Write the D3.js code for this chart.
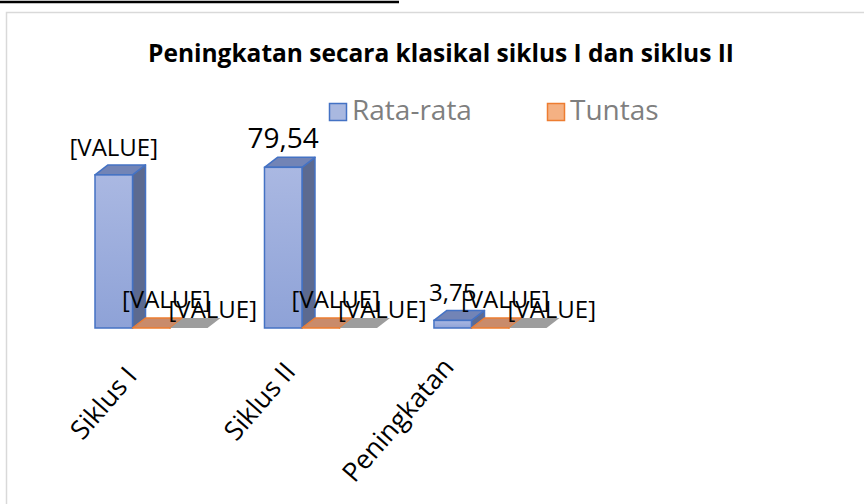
<!DOCTYPE html>
<html>
<head>
<meta charset="utf-8">
<script src="https://cdn.jsdelivr.net/npm/d3@7"></script>
<style>
  body { margin: 0; background: #fff; }
  svg { display: block; font-family: "Open Sans", sans-serif; }
</style>
</head>
<body>
<svg id="chart"></svg>
<script>
// categories and series
var categories = ['Siklus I', 'Siklus II', 'Peningkatan'];
var seriesNames = ['Rata-rata', 'Tuntas', 'Seri 3'];
var rataRata = [75.79, 79.54, 3.75];
var tuntas = [0, 0, 0];
var seri3 = [0, 0, 0];
// data label texts as shown in the picture
var rataLabels = ['[VALUE]', '79,54', '3,75'];
var tuntasLabels = ['[VALUE]', '[VALUE]', '[VALUE]'];
var seri3Labels = ['[VALUE]', '[VALUE]', '[VALUE]'];

var w = 864, h = 504;
var svg = d3.select('#chart').attr('width', w).attr('height', h);

// page line above the chart and the chart frame
svg.append('line')
  .attr('x1', 0).attr('x2', 399).attr('y1', 2).attr('y2', 2)
  .attr('stroke', '#000').attr('stroke-width', 2.5);
svg.append('rect')
  .attr('x', 6.5).attr('y', 12.5).attr('width', w).attr('height', h)
  .attr('fill', 'none').attr('stroke', '#d9d9d9').attr('stroke-width', 1.5);

// title
svg.append('text')
  .attr('x', 441).attr('y', 62)
  .attr('text-anchor', 'middle')
  .attr('font-weight', 'bold').attr('font-size', 24.5)
  .attr('fill', '#000')
  .text('Peningkatan secara klasikal siklus I dan siklus II');

// gradient for the front of the blue bars
var defs = svg.append('defs');
var grad = defs.append('linearGradient').attr('id', 'blueFront')
  .attr('x1', 0).attr('y1', 0).attr('x2', 0).attr('y2', 1);
grad.append('stop').attr('offset', '0%').attr('stop-color', '#aab8e2');
grad.append('stop').attr('offset', '100%').attr('stop-color', '#8ea2d7');
defs.append('filter').attr('id', 'soft')
  .append('feGaussianBlur').attr('stdDeviation', 0.7);

// scales
var x = d3.scaleBand().domain(categories).range([95, 546.5])
  .paddingInner(0.336).paddingOuter(0);
var xs = d3.scaleBand().domain(seriesNames).range([0, x.bandwidth()]);
var y = d3.scaleLinear().domain([0, 80]).range([328, 166.4]);

var dx = 13, dy = -10; // depth of the 3d bars

var styles = {
  'Rata-rata': {front: 'url(#blueFront)', side: '#5c6a90', top: '#7284b6', stroke: '#4472c4'},
  'Tuntas': {front: '#f4b183', side: '#b06a40', top: '#c98b6b', stroke: '#ed7d31'},
  'Seri 3': {front: '#a5a5a5', side: '#8a8a8a', top: '#9d9d9d', stroke: 'none'}
};

var rows = [];
categories.forEach(function(c, i) {
  rows.push({cat: c, s: 'Rata-rata', v: rataRata[i], label: rataLabels[i]});
  rows.push({cat: c, s: 'Tuntas', v: tuntas[i], label: tuntasLabels[i]});
  rows.push({cat: c, s: 'Seri 3', v: seri3[i], label: seri3Labels[i]});
});

var bars = svg.append('g').selectAll('g')
  .data(rows)
  .enter()
  .append('g')
  .attr('filter', function(d){ return d.s === 'Seri 3' ? 'url(#soft)' : null; });

function pts(a) { return a.map(function(p){ return p.join(','); }).join(' '); }

bars.each(function(d) {
  var g = d3.select(this);
  var st = styles[d.s];
  var x0 = x(d.cat) + xs(d.s), bw = xs.bandwidth();
  var top = y(d.v), bot = y(0);
  var sw = st.stroke === 'none' ? 0 : 1.5;
  // side face
  g.append('polygon')
    .attr('points', pts([[x0 + bw, top], [x0 + bw + dx, top + dy], [x0 + bw + dx, bot + dy], [x0 + bw, bot]]))
    .attr('fill', st.side).attr('stroke', st.stroke).attr('stroke-width', sw)
    .attr('stroke-linejoin', 'round');
  // top face
  g.append('polygon')
    .attr('points', pts([[x0, top], [x0 + dx, top + dy], [x0 + bw + dx, top + dy], [x0 + bw, top]]))
    .attr('fill', st.top).attr('stroke', st.stroke).attr('stroke-width', sw)
    .attr('stroke-linejoin', 'round');
  // front face
  if (bot - top > 0.5) {
    g.append('rect')
      .attr('x', x0).attr('y', top).attr('width', bw).attr('height', bot - top)
      .attr('fill', st.front).attr('stroke', st.stroke).attr('stroke-width', sw);
  }
});

// data labels
var labelOffset = {'Rata-rata': [0, -19], 'Tuntas': [15, -20], 'Seri 3': [24, -10]};
svg.append('g').selectAll('text')
  .data(rows)
  .enter()
  .append('text')
  .attr('x', function(d){ return x(d.cat) + xs(d.s) + xs.bandwidth() / 2 + labelOffset[d.s][0]; })
  .attr('y', function(d){ return (d.s === 'Rata-rata' ? y(d.v) : y(0)) + labelOffset[d.s][1]; })
  .attr('text-anchor', 'middle')
  .attr('font-size', function(d){ return d.label === '79,54' ? 28 : 24; })
  .attr('fill', '#000')
  .text(function(d){ return d.label; });

// category labels, on the slightly slanted front edge of the 3d floor
var perspective = d3.scaleLinear()
  .domain([x(categories[0]), x(categories[2])])
  .range([x(categories[0]) - 13, x(categories[2]) - 35]);
var slant = d3.scaleLinear()
  .domain([x(categories[0]), x(categories[2])])
  .range([377, 368]);
svg.append('g').selectAll('text')
  .data(categories)
  .enter()
  .append('text')
  .attr('transform', function(c){
    var cx = perspective(x(c)) + x.bandwidth() / 2;
    return 'translate(' + cx + ',' + slant(x(c)) + ') rotate(-49)';
  })
  .attr('text-anchor', 'end')
  .attr('font-size', 26.5)
  .attr('fill', '#000')
  .text(function(c){ return c; });

// legend (third series has no entry)
var legendItems = [
  {name: 'Rata-rata', x: 329, fill: '#a9b8e0', stroke: '#4472c4'},
  {name: 'Tuntas', x: 547, fill: '#f4b183', stroke: '#ed7d31'}
];
var lg = svg.append('g').selectAll('g')
  .data(legendItems)
  .enter()
  .append('g')
  .attr('transform', function(d){ return 'translate(' + d.x + ',0)'; });
lg.append('rect')
  .attr('x', 0.5).attr('y', 103.5).attr('width', 17).attr('height', 17)
  .attr('fill', function(d){ return d.fill; })
  .attr('stroke', function(d){ return d.stroke; }).attr('stroke-width', 1.5);
lg.append('text')
  .attr('x', 23).attr('y', 120)
  .attr('font-size', 28).attr('fill', '#7f7f7f')
  .text(function(d){ return d.name; });
</script>
</body>
</html>
